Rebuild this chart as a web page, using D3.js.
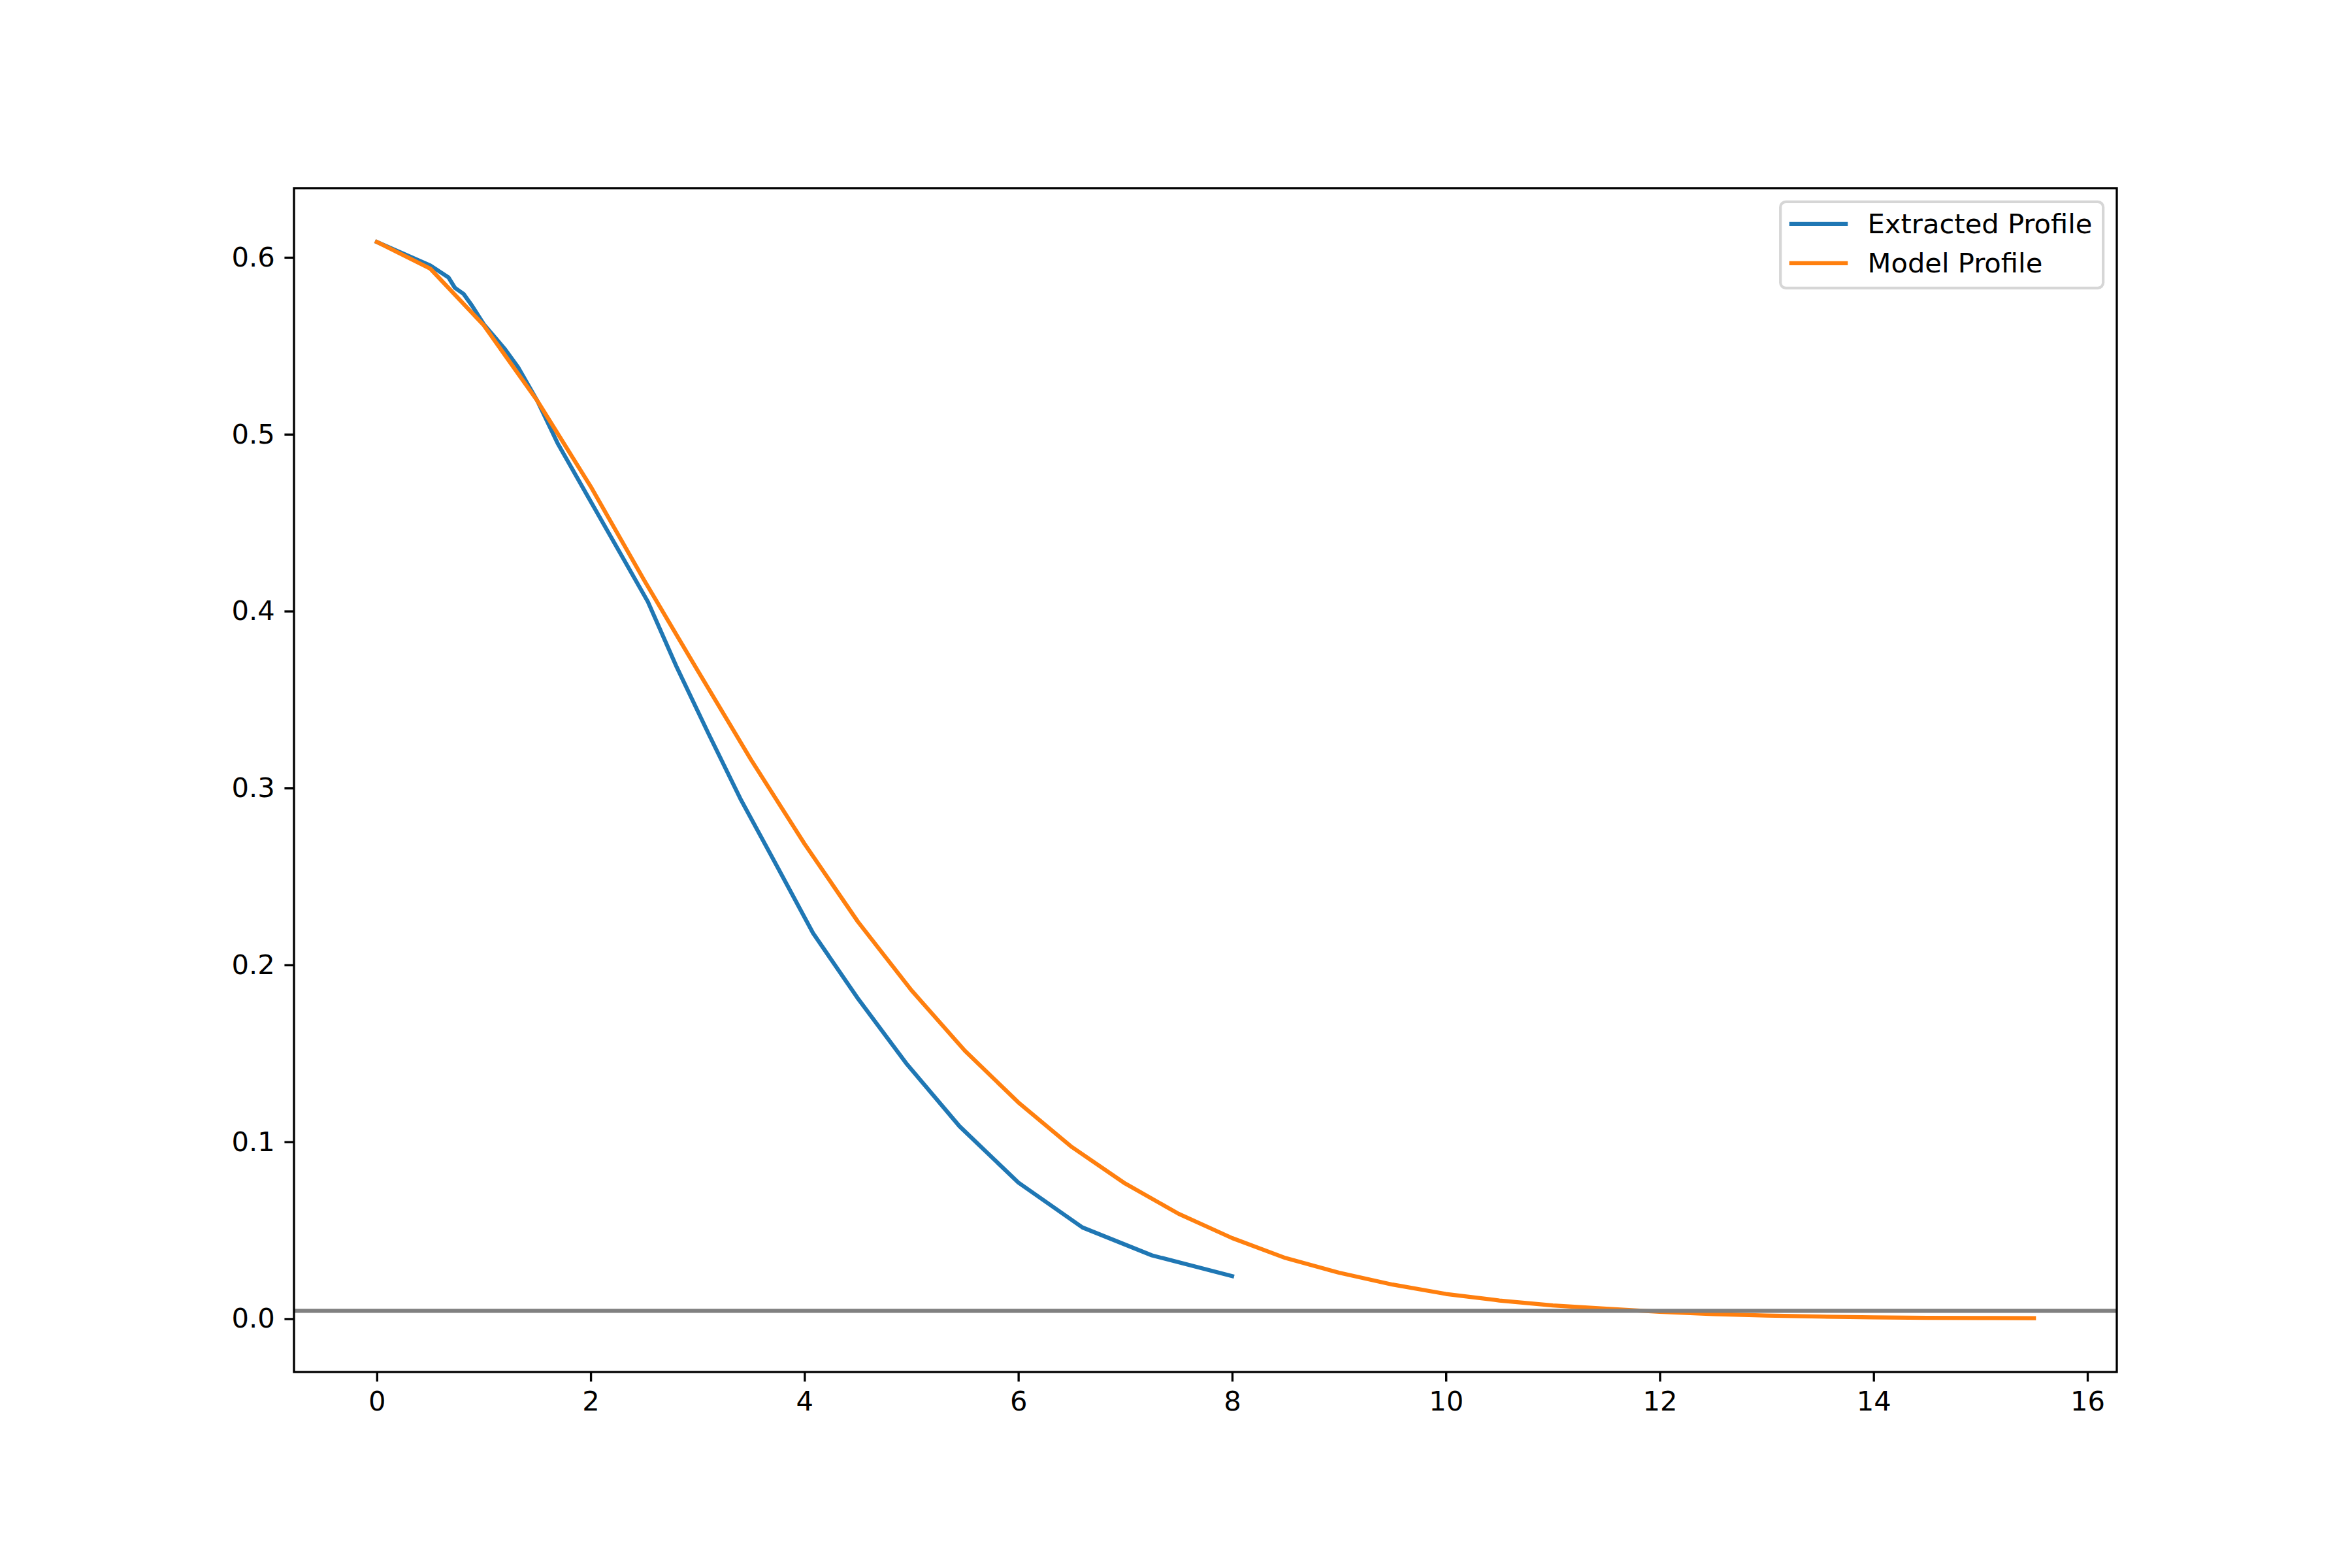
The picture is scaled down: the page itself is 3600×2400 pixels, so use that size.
<!DOCTYPE html>
<html>
<head>
<meta charset="utf-8">
<script src="https://cdn.jsdelivr.net/npm/d3@7"></script>
<style>
  body { margin: 0; background: #ffffff; }
  svg { display: block; font-family: "DejaVu Sans", sans-serif; }
</style>
</head>
<body>
<svg width="3600" height="2400"></svg>
<script>
const width = 3600;
const height = 2400;

// blue curve
const extractedX = [0, 0.5, 0.67, 0.73, 0.81, 0.89, 1.0, 1.2, 1.32, 1.5, 1.69, 2.0, 2.28, 2.535,
  2.8, 3.1, 3.4, 3.75, 4.08, 4.5, 4.95, 5.45, 6.0, 6.6, 7.25, 8.0];
const extractedY = [0.6087, 0.5954, 0.5887, 0.5828, 0.5794, 0.5727, 0.5622, 0.548, 0.538, 0.519,
  0.495, 0.462, 0.4324, 0.4053, 0.369, 0.331, 0.294, 0.255, 0.218, 0.181, 0.1445, 0.1088,
  0.077, 0.0516, 0.0358, 0.0241];

// orange curve
const modelX = [0, 0.5, 1, 1.5, 2, 2.5, 3, 3.5, 4, 4.5, 5, 5.5, 6, 6.5, 7, 7.5, 8, 8.5, 9, 9.5,
  10, 10.5, 11, 11.5, 12, 12.5, 13, 13.5, 14, 14.5, 15, 15.5];
const modelY = [0.6087, 0.5936, 0.5616, 0.519, 0.4705, 0.4175, 0.3665, 0.316, 0.2685, 0.2244,
  0.1857, 0.1515, 0.1223, 0.0971, 0.0764, 0.0593, 0.0456, 0.0343, 0.026, 0.0193, 0.014,
  0.0103, 0.0075, 0.0057, 0.0039, 0.0026, 0.0018, 0.0012, 0.0008, 0.0005, 0.0004, 0.0003];

const floorLevel = 0.0045;

const xTicks = [0, 2, 4, 6, 8, 10, 12, 14, 16];
const yTicks = [0.0, 0.1, 0.2, 0.3, 0.4, 0.5, 0.6];

const seriesNames = ["Extracted Profile", "Model Profile"];
const seriesColors = ["#1f77b4", "#ff7f0e"];

// 300 dpi, so 1pt = 300/72 px
const pt = 300 / 72;
const fontSize = 10 * pt;

const margin = { left: 450, right: 360, top: 288, bottom: 300 };
const plotW = width - margin.left - margin.right;
const plotH = height - margin.top - margin.bottom;

const svg = d3.select("svg");

// matplotlib style 5% padding around the data
const allX = extractedX.concat(modelX);
const allY = extractedY.concat(modelY);
const [x0, x1] = d3.extent(allX);
const [y0, y1] = d3.extent(allY);
const padX = (x1 - x0) * 0.05;
const padY = (y1 - y0) * 0.05;

const x = d3.scaleLinear()
  .domain([x0 - padX, x1 + padX])
  .range([margin.left, margin.left + plotW]);

const y = d3.scaleLinear()
  .domain([y0 - padY, y1 + padY])
  .range([margin.top + plotH, margin.top]);

svg.append("rect")
  .attr("width", width)
  .attr("height", height)
  .attr("fill", "#ffffff");

const clip = svg.append("defs").append("clipPath").attr("id", "plot-clip");
clip.append("rect")
  .attr("x", margin.left)
  .attr("y", margin.top)
  .attr("width", plotW)
  .attr("height", plotH);

const plot = svg.append("g").attr("clip-path", "url(#plot-clip)");

const line = d3.line()
  .x(d => x(d[0]))
  .y(d => y(d[1]));

const series = [
  d3.zip(extractedX, extractedY),
  d3.zip(modelX, modelY)
];

plot.selectAll("path.series")
  .data(series)
  .enter()
  .append("path")
  .attr("class", "series")
  .attr("d", line)
  .attr("fill", "none")
  .attr("stroke", (d, i) => seriesColors[i])
  .attr("stroke-width", 1.5 * pt)
  .attr("stroke-linejoin", "round")
  .attr("stroke-linecap", "square");

// horizontal reference line over the whole width
plot.append("line")
  .attr("x1", margin.left)
  .attr("x2", margin.left + plotW)
  .attr("y1", y(floorLevel))
  .attr("y2", y(floorLevel))
  .attr("stroke", "#808080")
  .attr("stroke-width", 1.5 * pt);

// axes
const xAxis = svg.append("g")
  .attr("transform", `translate(0, ${margin.top + plotH})`)
  .call(d3.axisBottom(x)
    .tickValues(xTicks)
    .tickFormat(d3.format("d"))
    .tickSize(3.5 * pt)
    .tickPadding(3.5 * pt));

const yAxis = svg.append("g")
  .attr("transform", `translate(${margin.left}, 0)`)
  .call(d3.axisLeft(y)
    .tickValues(yTicks)
    .tickFormat(d3.format(".1f"))
    .tickSize(3.5 * pt)
    .tickPadding(3.5 * pt));

[xAxis, yAxis].forEach(ax => {
  ax.select(".domain").remove();
  ax.selectAll(".tick line")
    .attr("stroke", "#000000")
    .attr("stroke-width", 0.8 * pt);
  ax.selectAll(".tick text")
    .attr("fill", "#000000")
    .style("font-size", fontSize + "px")
    .style("font-family", "'DejaVu Sans', sans-serif");
});

// spines
svg.append("rect")
  .attr("x", margin.left)
  .attr("y", margin.top)
  .attr("width", plotW)
  .attr("height", plotH)
  .attr("fill", "none")
  .attr("stroke", "#000000")
  .attr("stroke-width", 0.8 * pt);

// legend, upper right
const borderPad = 0.4 * fontSize;
const handleLen = 2.0 * fontSize;
const handlePad = 0.8 * fontSize;
const rowH = 0.935 * fontSize;
const rowGap = 0.5 * fontSize;
const axesPad = 0.5 * fontSize;

const legend = svg.append("g");

const items = legend.selectAll("g.item")
  .data(seriesNames)
  .enter()
  .append("g")
  .attr("class", "item");

items.append("text")
  .attr("x", handleLen + handlePad)
  .attr("y", (d, i) => i * (rowH + rowGap) + rowH / 2)
  .attr("dy", "0.33em")
  .attr("fill", "#000000")
  .style("font-size", fontSize + "px")
  .text(d => d);

let textW = 0;
items.selectAll("text").each(function () {
  textW = Math.max(textW, this.getComputedTextLength());
});

const boxW = borderPad * 2 + handleLen + handlePad + textW;
const boxH = borderPad * 2 + rowH * seriesNames.length + rowGap * (seriesNames.length - 1);
const boxX = margin.left + plotW - axesPad - boxW;
const boxY = margin.top + axesPad;

legend.attr("transform", `translate(${boxX}, ${boxY})`);

legend.insert("rect", ":first-child")
  .attr("width", boxW)
  .attr("height", boxH)
  .attr("rx", 0.2 * fontSize)
  .attr("fill", "#ffffff")
  .attr("fill-opacity", 0.8)
  .attr("stroke", "#cccccc")
  .attr("stroke-opacity", 0.8)
  .attr("stroke-width", 1.0 * pt);

items.attr("transform", `translate(${borderPad}, ${borderPad - 2})`);

items.append("line")
  .attr("x1", 0)
  .attr("x2", handleLen)
  .attr("y1", (d, i) => i * (rowH + rowGap) + rowH / 2)
  .attr("y2", (d, i) => i * (rowH + rowGap) + rowH / 2)
  .attr("stroke", (d, i) => seriesColors[i])
  .attr("stroke-width", 1.5 * pt)
  .attr("stroke-linecap", "square");
</script>
</body>
</html>
